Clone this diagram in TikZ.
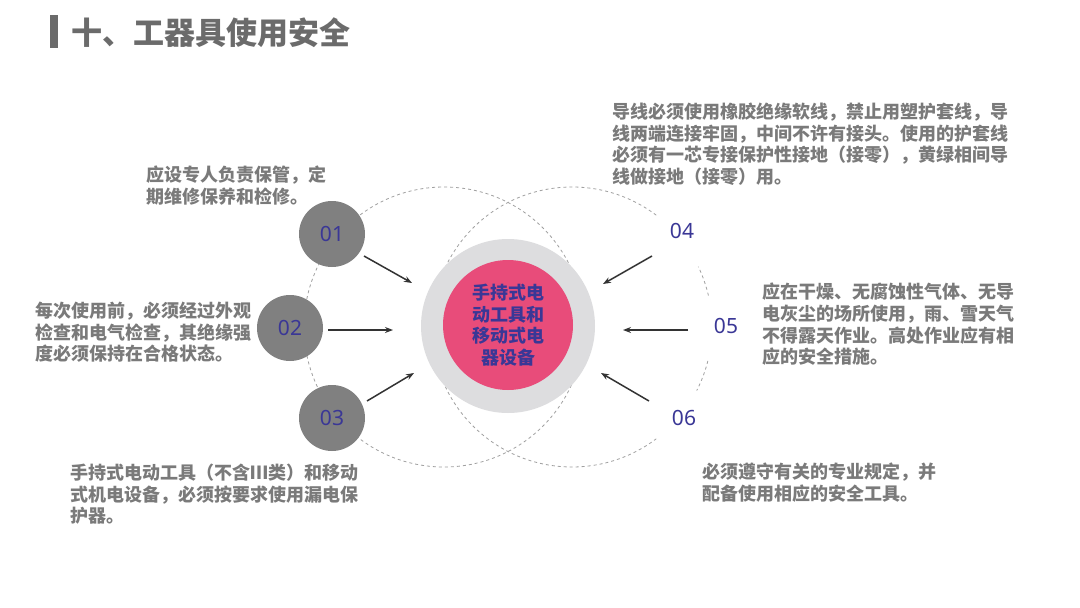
\documentclass[tikz,border=0pt]{standalone}
\usepackage{fontspec}
\newfontfamily\cjk{Noto Sans CJK SC}
\newfontfamily\numfont{Noto Sans}
\usetikzlibrary{arrows.meta}
\definecolor{txtgray}{HTML}{7A7A7A}
\definecolor{titlegray}{HTML}{6B6B6B}
\definecolor{dotgray}{HTML}{808080}
\definecolor{ringgray}{HTML}{DDDDDF}
\definecolor{pinkc}{HTML}{E84C7A}
\definecolor{navy}{HTML}{3A3796}
\definecolor{dashgray}{HTML}{A0A0A0}
\definecolor{arrowc}{HTML}{333333}
\tikzset{
  desc/.style={font=\cjk\bfseries\fontsize{18}{21.6}\selectfont, text=txtgray, align=left, anchor=north west, inner sep=0pt},
  numdot/.style={circle, fill=dotgray, minimum size=66pt, inner sep=0pt, font=\numfont\fontsize{21}{24}\selectfont, text=navy},
  numlbl/.style={inner sep=0pt, font=\numfont\fontsize{21}{24}\selectfont, text=navy},
  dashc/.style={draw=dashgray, line width=0.8pt, dash pattern=on 3pt off 3pt},
  arr/.style={draw=arrowc, line width=1.5pt, -{Stealth[length=8pt,width=6pt]}}
}
\begin{document}
\begin{tikzpicture}[x=1pt,y=-1pt]
\useasboundingbox[fill=white] (0,0) rectangle (1080,608);
% title
\fill[titlegray] (50,15) rectangle (58,48);
\node[anchor=west, inner sep=0pt, font=\cjk\bfseries\fontsize{31}{36}\selectfont, text=titlegray] (title) at (71,33) {十、工器具使用安全};
% dashed circles
\coordinate (lc) at (444,327);
\coordinate (rc) at (572,327);
\draw[dashc] (lc) circle[radius=140];
\draw[dashc] (rc) ++(-53:140) arc[start angle=-53, end angle=-307, radius=140];
\draw[dashc] (rc) ++(-13:140) arc[start angle=-13, end angle=-25.5, radius=140];
\draw[dashc] (rc) ++(14:140) arc[start angle=14, end angle=27, radius=140];
% centre
\node[circle, fill=ringgray, minimum size=174pt, inner sep=0pt] (ring) at (508,326) {};
\node[circle, fill=pinkc, minimum size=130pt, inner sep=0pt, align=center, font=\cjk\bfseries\fontsize{18}{21.6}\selectfont, text=navy] (core) at (508,325) {手持式电\\动工具和\\移动式电\\器设备};
% left dots
\node[numdot] (n1) at (332,234) {01};
\node[numdot] (n2) at (290,328) {02};
\node[numdot] (n3) at (332,418) {03};
% right labels
\node[numlbl] (n4) at (682,231) {04};
\node[numlbl] (n5) at (726,326) {05};
\node[numlbl] (n6) at (684,418) {06};
% arrows
\coordinate (a1s) at (364,256); \coordinate (a1e) at (412,283);
\coordinate (a2s) at (328,330); \coordinate (a2e) at (393,330);
\coordinate (a3s) at (367,401); \coordinate (a3e) at (414,373);
\coordinate (a4s) at (652,256); \coordinate (a4e) at (603,284);
\coordinate (a5s) at (688,330); \coordinate (a5e) at (623,330);
\coordinate (a6s) at (649,401); \coordinate (a6e) at (601,373);
\draw[arr] (a1s) -- (a1e);
\draw[arr] (a2s) -- (a2e);
\draw[arr] (a3s) -- (a3e);
\draw[arr] (a4s) -- (a4e);
\draw[arr] (a5s) -- (a5e);
\draw[arr] (a6s) -- (a6e);
% descriptions
\node[desc] (t1) at (146,166) {应设专人负责保管，定\\期维修保养和检修。};
\node[desc] (t2) at (35,302) {每次使用前，必须经过外观\\检查和电气检查，其绝缘强\\度必须保持在合格状态。};
\node[desc] (t3) at (70,464) {手持式电动工具（不含Ⅲ类）和移动\\式机电设备，必须按要求使用漏电保\\护器。};
\node[desc] (t4) at (612,103) {导线必须使用橡胶绝缘软线，禁止用塑护套线，导\\线两端连接牢固，中间不许有接头。使用的护套线\\必须有一芯专接保护性接地（接零），黄绿相间导\\线做接地（接零）用。};
\node[desc] (t5) at (762,283) {应在干燥、无腐蚀性气体、无导\\电灰尘的场所使用，雨、雪天气\\不得露天作业。高处作业应有相\\应的安全措施。};
\node[desc] (t6) at (702,463) {必须遵守有关的专业规定，并\\配备使用相应的安全工具。};
\end{tikzpicture}
\end{document}
